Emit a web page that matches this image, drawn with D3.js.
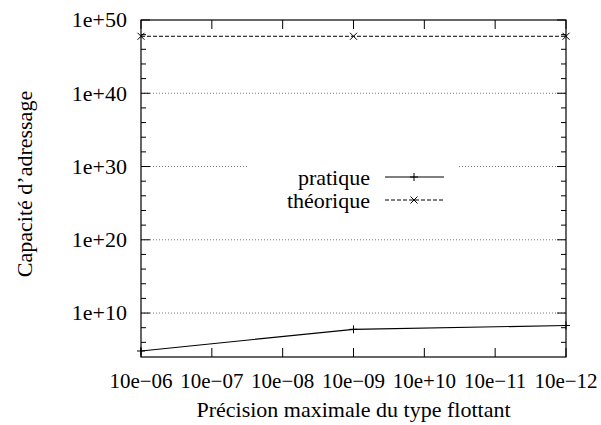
<!DOCTYPE html>
<html><head><meta charset="utf-8">
<script src="https://cdn.jsdelivr.net/npm/d3@7"></script>
</head><body style="margin:0;background:#fff">
<script>
const xValues = [6, 9, 12];
const xTickValues = [6, 7, 8, 9, 10, 11, 12];
const xTickLabels = ["10e\u221206","10e\u221207","10e\u221208","10e\u221209","10e+10","10e\u221211","10e\u221212"];
const pratique = [6.6e4, 6e7, 2e8];
const theorique = [6e47, 6e47, 6e47];
const yMajorTicks = [1e10, 1e20, 1e30, 1e40, 1e50];
const yMajorLabels = ["1e+10","1e+20","1e+30","1e+40","1e+50"];
const seriesNames = ["pratique", "théorique"];

const W = 601, H = 425;
const m = {l:141, t:20, r:566, b:357};
const svg = d3.select("body").append("svg").attr("width", W).attr("height", H).style("display", "block");
const x = d3.scaleLinear().domain([6, 12]).range([m.l, m.r]);
const y = d3.scaleLog().domain([1e4, 1e50]).range([m.b, m.t]);
const fs = 22;

// grid
svg.append("g").selectAll("line").data(yMajorTicks.filter(v => v < 1e50)).join("line")
  .attr("x1", m.l).attr("x2", m.r).attr("y1", d => y(d)).attr("y2", d => y(d))
  .attr("stroke", "#555").attr("stroke-width", 0.8).attr("stroke-dasharray", "1,2");

// ticks
const minor = d3.range(6, 50, 2).filter(e => e % 10 !== 0).map(e => Math.pow(10, e));
const tickG = svg.append("g").attr("stroke", "#000").attr("stroke-width", 1);
minor.forEach(v => {
  tickG.append("line").attr("x1", m.l).attr("x2", m.l + 5).attr("y1", y(v)).attr("y2", y(v));
  tickG.append("line").attr("x1", m.r).attr("x2", m.r - 5).attr("y1", y(v)).attr("y2", y(v));
});
yMajorTicks.forEach(v => {
  tickG.append("line").attr("x1", m.l).attr("x2", m.l + 9).attr("y1", y(v)).attr("y2", y(v));
  tickG.append("line").attr("x1", m.r).attr("x2", m.r - 9).attr("y1", y(v)).attr("y2", y(v));
});
xTickValues.forEach(v => {
  tickG.append("line").attr("x1", x(v)).attr("x2", x(v)).attr("y1", m.b).attr("y2", m.b - 9);
  tickG.append("line").attr("x1", x(v)).attr("x2", x(v)).attr("y1", m.t).attr("y2", m.t + 9);
});

// legend box background (erases grid)
const lg = svg.append("g");
lg.append("rect").attr("x", 248).attr("y", 160).attr("width", 209).attr("height", 52).attr("fill", "#fff");

// lines
const line = d3.line().x((d, i) => x(xValues[i])).y(d => y(d));
svg.append("path").datum(pratique).attr("d", line).attr("fill", "none").attr("stroke", "#000").attr("stroke-width", 1.2);
svg.append("path").datum(theorique).attr("d", line).attr("fill", "none").attr("stroke", "#000").attr("stroke-width", 1).attr("stroke-dasharray", "4,2");

function plus(g, cx, cy) {
  g.append("path").attr("d", `M${cx-4},${cy}H${cx+4}M${cx},${cy-4}V${cy+4}`).attr("stroke", "#000").attr("stroke-width", 1);
}
function cross(g, cx, cy) {
  g.append("path").attr("d", `M${cx-3.5},${cy-3.5}L${cx+3.5},${cy+3.5}M${cx-3.5},${cy+3.5}L${cx+3.5},${cy-3.5}`).attr("stroke", "#000").attr("stroke-width", 1);
}
const mk = svg.append("g");
pratique.forEach((v, i) => plus(mk, x(xValues[i]), y(v)));
theorique.forEach((v, i) => cross(mk, x(xValues[i]), y(v)));

function txt(sel, size) { return sel.attr("font-family", "Liberation Serif").attr("font-size", size || fs).attr("fill", "#000"); }

// legend
const legY = [177, 200];
seriesNames.forEach((n, i) => {
  txt(lg.append("text")).attr("x", 370).attr("y", legY[i]).attr("dy", "0.35em").attr("text-anchor", "end").text(n);
  lg.append("line").attr("x1", 385).attr("x2", 444).attr("y1", legY[i]).attr("y2", legY[i])
    .attr("stroke", "#000").attr("stroke-width", i === 0 ? 1.2 : 1).attr("stroke-dasharray", i === 0 ? null : "4,2");
  if (i === 0) plus(lg, 414, legY[i]); else cross(lg, 414, legY[i]);
});

// frame
svg.append("rect").attr("x", m.l).attr("y", m.t).attr("width", m.r - m.l).attr("height", m.b - m.t)
  .attr("fill", "none").attr("stroke", "#000").attr("stroke-width", 1.2);

// tick labels
txt(svg.append("g").selectAll("text").data(yMajorTicks).join("text"))
  .attr("x", 127).attr("y", d => y(d)).attr("dy", "0.33em").attr("text-anchor", "end")
  .text((d, i) => yMajorLabels[i]);
txt(svg.append("g").selectAll("text").data(xTickValues).join("text"), 21)
  .attr("x", d => x(d)).attr("y", 388).attr("text-anchor", "middle")
  .text((d, i) => xTickLabels[i]);

// axis titles
txt(svg.append("text")).attr("x", (m.l + m.r) / 2).attr("y", 417).attr("text-anchor", "middle")
  .text("Précision maximale du type flottant");
txt(svg.append("text")).attr("transform", `translate(32,184) rotate(-90)`).attr("text-anchor", "middle")
  .text("Capacité d’adressage");
</script>
</body></html>
